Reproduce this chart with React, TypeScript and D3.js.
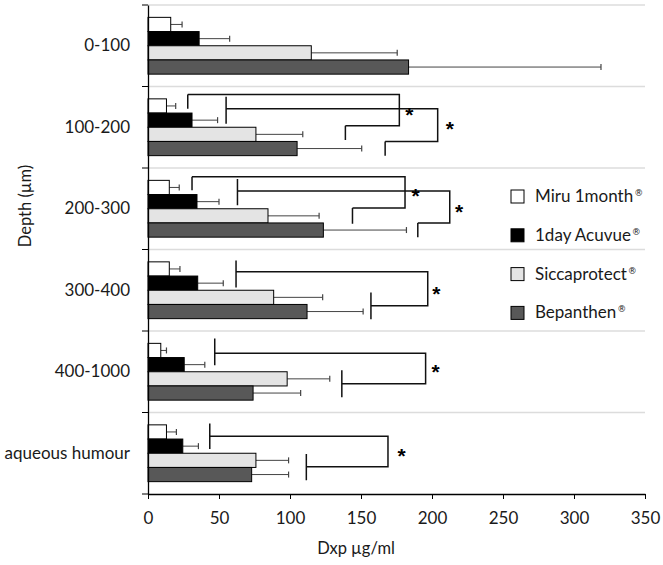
import { useEffect, useRef } from 'react';
import * as d3 from 'd3';

const depths = ['0-100', '100-200', '200-300', '300-400', '400-1000', 'aqueous humour'];
const products = ['Miru 1month', '1day Acuvue', 'Siccaprotect', 'Bepanthen'];
const productColors = ['#ffffff', '#000000', '#e4e4e4', '#585858'];

// mean Dxp concentration (µg/ml) per depth
const miru = [16, 13, 15, 15, 9, 13];
const acuvue = [36, 31, 34.5, 35, 25.5, 24.5];
const sicca = [115, 76, 84.5, 88.5, 98, 76];
const bepanthen = [183.5, 105, 123.5, 112, 74, 73];

// upper end of the error bars (mean + SD)
const miruHigh = [24, 19.5, 22, 22.5, 13, 20];
const acuvueHigh = [57.5, 49, 50, 53, 40, 35.5];
const siccaHigh = [175.5, 109, 120.5, 123, 128, 99];
const bepanthenHigh = [319, 150.5, 182, 151.5, 107.5, 99];

const xTicks = [0, 50, 100, 150, 200, 250, 300, 350];

// significance brackets: x in µg/ml, vertical spots in bar rows (0 = top of first bar, 4 = bottom of last)
const brackets = [
  { depth: '100-200', left: 28, right: 177, back: 139, top: -0.3, bottom: 1.9, leftTick: [-0.3, 0.7], backTick: [1.9, 2.9], star: [184, 0.78] },
  { depth: '100-200', left: 55, right: 204, back: 167, top: 0.7, bottom: 3.0, leftTick: [-0.15, 1.75], backTick: [3.0, 4.0], star: [212.5, 1.75] },
  { depth: '200-300', left: 31, right: 181, back: 144, top: -0.25, bottom: 1.95, leftTick: [-0.25, 0.7], backTick: [1.95, 3.05], star: [188.5, 0.75] },
  { depth: '200-300', left: 63, right: 212.5, back: 190, top: 0.75, bottom: 3.0, leftTick: [-0.1, 1.75], backTick: [3.0, 4.0], star: [219, 1.85] },
  { depth: '300-400', left: 62, right: 197, back: 157, top: 0.7, bottom: 3.1, leftTick: [-0.1, 1.8], backTick: [2.15, 4.05], star: [203, 1.9] },
  { depth: '400-1000', left: 47, right: 195.5, back: 136.5, top: 0.7, bottom: 2.85, leftTick: [-0.35, 1.55], backTick: [1.9, 3.8], star: [202.5, 1.7] },
  { depth: 'aqueous humour', left: 43.5, right: 169, back: 111.5, top: 0.8, bottom: 2.95, leftTick: [-0.1, 1.7], backTick: [2.05, 3.9], star: [178.5, 1.85] },
];

const FONT = 'Lato, "Open Sans", sans-serif';
const INK = '#1a1a1a';

export default function App() {
  const svgRef = useRef<SVGSVGElement>(null);
  const width = 663;
  const height = 565;

  useEffect(() => {
    if (!svgRef.current) return;
    const svg = d3.select(svgRef.current);
    svg.selectAll('*').remove();

    const plot = { left: 148, right: 645, top: 5, bottom: 494 };

    const x = d3.scaleLinear().domain([0, 350]).range([plot.left, plot.right]);
    const y0 = d3.scaleBand<string>().domain(depths).range([plot.top, plot.bottom]);
    const y1 = d3.scaleBand<string>().domain(products).range([0, y0.bandwidth()]).paddingOuter(0.87);
    const rowY = (depth: string, r: number) =>
      (y0(depth) as number) + (y1(products[0]) as number) + r * y1.bandwidth();

    const means = [miru, acuvue, sicca, bepanthen];
    const highs = [miruHigh, acuvueHigh, siccaHigh, bepanthenHigh];

    // light separators between depth groups
    const bounds = depths.map(d => y0(d) as number);
    svg.append('g')
      .selectAll('line')
      .data(bounds)
      .join('line')
      .attr('x1', plot.left)
      .attr('x2', plot.right)
      .attr('y1', d => d)
      .attr('y2', d => d)
      .attr('stroke', '#dcdcdc')
      .attr('stroke-width', 1.5);

    // bars + error bars
    products.forEach((p, pi) => {
      const g = svg.append('g');
      const rows = depths.map((d, di) => ({
        depth: d,
        mean: means[pi][di],
        high: highs[pi][di],
        y: (y0(d) as number) + (y1(p) as number),
      }));
      const h = y1.bandwidth();

      g.selectAll('line.err')
        .data(rows)
        .join('line')
        .attr('class', 'err')
        .attr('x1', d => x(d.mean))
        .attr('x2', d => x(d.high))
        .attr('y1', d => d.y + h / 2)
        .attr('y2', d => d.y + h / 2)
        .attr('stroke', '#444')
        .attr('stroke-width', 1);

      g.selectAll('line.cap')
        .data(rows)
        .join('line')
        .attr('class', 'cap')
        .attr('x1', d => x(d.high))
        .attr('x2', d => x(d.high))
        .attr('y1', d => d.y + h / 2 - 3)
        .attr('y2', d => d.y + h / 2 + 3)
        .attr('stroke', '#444')
        .attr('stroke-width', 1.2);

      g.selectAll('rect')
        .data(rows)
        .join('rect')
        .attr('x', x(0))
        .attr('y', d => d.y)
        .attr('width', d => x(d.mean) - x(0))
        .attr('height', h)
        .attr('fill', productColors[pi])
        .attr('stroke', '#000')
        .attr('stroke-width', 1);
    });

    // significance brackets
    const bg = svg.append('g')
      .attr('fill', 'none')
      .attr('stroke', '#111')
      .attr('stroke-width', 1.5);
    brackets.forEach(b => {
      const yt = rowY(b.depth, b.top);
      const yb = rowY(b.depth, b.bottom);
      const path = d3.path();
      path.moveTo(x(b.left), rowY(b.depth, b.leftTick[0]));
      path.lineTo(x(b.left), rowY(b.depth, b.leftTick[1]));
      path.moveTo(x(b.left), yt);
      path.lineTo(x(b.right), yt);
      path.lineTo(x(b.right), yb);
      path.lineTo(x(b.back), yb);
      path.moveTo(x(b.back), rowY(b.depth, b.backTick[0]));
      path.lineTo(x(b.back), rowY(b.depth, b.backTick[1]));
      bg.append('path').attr('d', path.toString());

      svg.append('text')
        .attr('x', x(b.star[0]))
        .attr('y', rowY(b.depth, b.star[1]) + 12)
        .attr('text-anchor', 'middle')
        .attr('font-family', '"Liberation Sans", Arial, sans-serif')
        .attr('font-weight', 'bold')
        .attr('font-size', 21)
        .attr('fill', '#000')
        .text('*');
    });

    // x axis
    const xAxis = svg.append('g')
      .attr('transform', `translate(0,${plot.bottom})`)
      .call(d3.axisBottom(x).tickValues(xTicks).tickSize(5).tickSizeOuter(0).tickPadding(13));
    xAxis.select('.domain').attr('stroke', '#000').attr('stroke-width', 1.3);
    xAxis.selectAll('.tick line').attr('stroke', '#000');
    xAxis.selectAll('.tick text')
      .attr('font-family', FONT)
      .attr('font-size', 17)
      .attr('fill', INK);

    // y axis: labels at group centres, ticks at group boundaries
    const yAxis = svg.append('g')
      .attr('transform', `translate(${plot.left},0)`)
      .call(d3.axisLeft(y0).tickSize(0).tickSizeOuter(0).tickPadding(18));
    yAxis.select('.domain').attr('stroke', '#000').attr('stroke-width', 1.3);
    yAxis.selectAll('.tick text')
      .attr('font-family', FONT)
      .attr('font-size', 17)
      .attr('fill', INK);
    yAxis.selectAll('line.bound')
      .data([...bounds, plot.bottom])
      .join('line')
      .attr('class', 'bound')
      .attr('x1', -6)
      .attr('x2', 0)
      .attr('y1', d => d)
      .attr('y2', d => d)
      .attr('stroke', '#000');

    // axis titles
    svg.append('text')
      .attr('x', 356)
      .attr('y', 554)
      .attr('text-anchor', 'middle')
      .attr('font-family', FONT)
      .attr('font-size', 16.5)
      .attr('fill', INK)
      .text('Dxp µg/ml');

    svg.append('text')
      .attr('transform', 'translate(31,206) rotate(-90)')
      .attr('text-anchor', 'middle')
      .attr('font-family', FONT)
      .attr('font-size', 16.5)
      .attr('fill', INK)
      .text('Depth (µm)');

    // legend
    const legend = svg.append('g').attr('transform', 'translate(511,190)');
    products.forEach((p, i) => {
      const row = legend.append('g').attr('transform', `translate(0,${i * 38.8})`);
      row.append('rect')
        .attr('width', 13)
        .attr('height', 13)
        .attr('fill', productColors[i])
        .attr('stroke', '#000')
        .attr('stroke-width', 1);
      const t = row.append('text')
        .attr('x', 24)
        .attr('y', 12)
        .attr('font-family', FONT)
        .attr('font-size', 17)
        .attr('fill', INK)
        .text(p);
      t.append('tspan')
        .attr('font-family', '"DejaVu Sans", sans-serif')
        .attr('font-size', 9)
        .attr('fill', INK)
        .attr('dx', 1)
        .attr('dy', -6)
        .text('®');
    });
  }, []);

  return (
    <svg
      ref={svgRef}
      width={width}
      height={height}
      style={{ position: 'absolute', left: 0, top: 0, background: '#fff' }}
    />
  );
}
